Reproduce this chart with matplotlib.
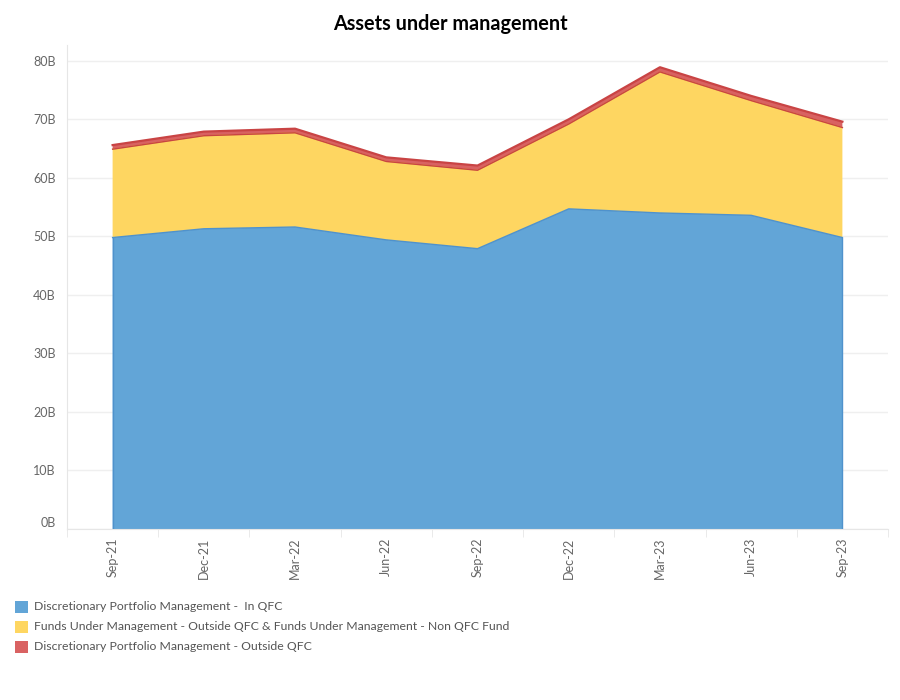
import matplotlib
matplotlib.use('Agg')
import matplotlib.pyplot as plt
from matplotlib.patches import Rectangle
import numpy as np

quarters = ['Sep-21', 'Dec-21', 'Mar-22', 'Jun-22', 'Sep-22', 'Dec-22', 'Mar-23', 'Jun-23', 'Sep-23']
# values in billions
dpm_in_qfc = [49.8, 51.3, 51.6, 49.4, 47.9, 54.7, 54.0, 53.6, 49.8]
fum_outside = [15.1, 15.9, 16.1, 13.4, 13.4, 14.5, 24.1, 19.6, 18.8]
dpm_outside = [0.7, 0.7, 0.7, 0.7, 0.8, 0.8, 0.8, 0.8, 1.0]

series_names = ['Discretionary Portfolio Management -  In QFC',
                'Funds Under Management - Outside QFC & Funds Under Management - Non QFC Fund',
                'Discretionary Portfolio Management - Outside QFC']
y_ticks = [0, 10, 20, 30, 40, 50, 60, 70, 80]

plt.rcParams['font.family'] = ['Lato', 'DejaVu Sans']

fills = ['#62a5d7', '#fed661', '#d96262']
edges = ['#4f92cc', '#eec23a', '#c94444']
widths = [1.0, 0.8, 1.6]

fig = plt.figure(figsize=(9, 7), dpi=100)
ax = fig.add_axes([67/900, 1 - 529/700, (888 - 67)/900, (529 - 45)/700])

x = np.arange(len(quarters))
stack = [dpm_in_qfc, fum_outside, dpm_outside]
base = np.zeros(len(quarters))
for k, (vals, fc, ec, lw) in enumerate(zip(stack, fills, edges, widths)):
    top = base + np.array(vals)
    ax.fill_between(x, base, top, facecolor=fc, edgecolor='none', zorder=2)
    ax.plot(x, top, color=ec, linewidth=lw, zorder=3 + k)
    base = top
ax.plot(x, base - np.array(dpm_outside), color=edges[2], linewidth=1.0, zorder=5)
ax.plot([x[0], x[0]], [0, dpm_in_qfc[0]], color=edges[0], lw=1, zorder=3)
ax.plot([x[-1], x[-1]], [0, dpm_in_qfc[-1]], color=edges[0], lw=1, zorder=3)

ax.set_xlim(-0.5, len(quarters) - 0.5)
ax.set_ylim(0, 82.7)
ax.set_yticks(y_ticks)
ax.set_yticklabels([f'{v}B' for v in y_ticks])
ax.get_yticklabels()[0].set_verticalalignment('bottom')
ax.set_xticks(x)
ax.set_xticklabels(quarters, rotation=90)
ax.set_xticks(np.arange(-0.5, len(quarters) + 0.5, 1), minor=True)
ax.tick_params(axis='x', which='major', length=0, pad=6, labelsize=9, labelcolor='#666666')
ax.tick_params(axis='x', which='minor', length=6, color='#e6e6e6')
ax.tick_params(axis='y', length=0, pad=8, labelsize=9, labelcolor='#666666')

ax.grid(axis='y', color='#efefef', linewidth=1, zorder=0)
ax.set_axisbelow(True)
for s in ['top', 'right']:
    ax.spines[s].set_visible(False)
for s in ['left', 'bottom']:
    ax.spines[s].set_color('#e6e6e6')

fig.text(0.5, 1 - 24/700, 'Assets under management', ha='center', va='center',
         fontsize=14.3, fontweight='bold', color='#000000')

# legend
for i, (name, fc) in enumerate(zip(series_names, fills)):
    yc = 607 + 20 * i
    fig.patches.append(Rectangle((15/900, 1 - (yc + 6)/700), 13/900, 12/700,
                                 transform=fig.transFigure, facecolor=fc, edgecolor='none'))
    fig.text(34/900, 1 - yc/700, name, ha='left', va='center', fontsize=8.8, color='#555555')

fig.savefig('out.png', dpi=100)
